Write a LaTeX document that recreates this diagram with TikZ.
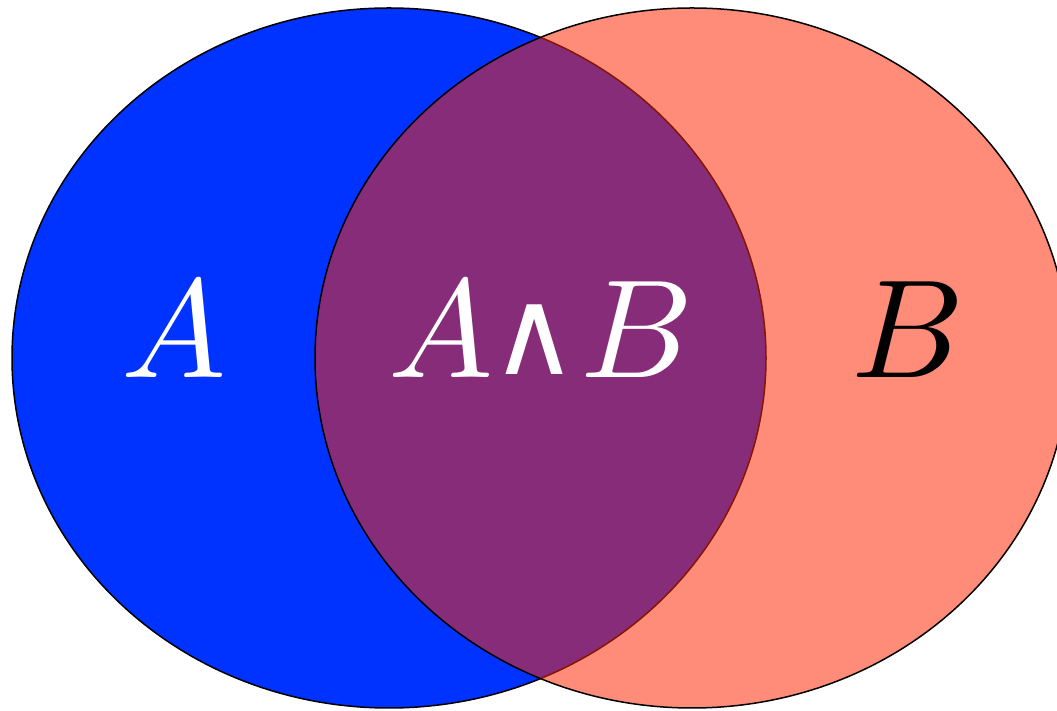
\documentclass[tikz,border=0pt]{standalone}
\usepackage{fontspec}
\newfontfamily\dejavu{DejaVu Sans}
\definecolor{setA}{RGB}{0,51,255}
\definecolor{setB}{RGB}{255,38,0}
\tikzset{
  setshape/.style={draw=black, line width=1.5pt},
  biglabel/.style={scale=14, anchor=base, inner sep=0pt}
}
\begin{document}
\begin{tikzpicture}[x=1pt,y=1pt]
\useasboundingbox (0,0) rectangle (1057,711);
\path[setshape, fill=setA] (389,353) ellipse [x radius=377, y radius=350];
\path[setshape, fill=setB, fill opacity=0.53] (692,353) ellipse [x radius=377, y radius=350];
\node[biglabel, text=white] (la) at (174,333) {$A$};
\node[biglabel, text=black] (lb) at (908,333) {$B$};
\node[biglabel, text=white] (ia) at (441,333) {$A$};
\node[biglabel, text=white, scale=0.86] (iw) at (535,336) {\dejavu ∧};
\node[biglabel, text=white] (ib) at (637,333) {$B$};
\end{tikzpicture}
\end{document}
